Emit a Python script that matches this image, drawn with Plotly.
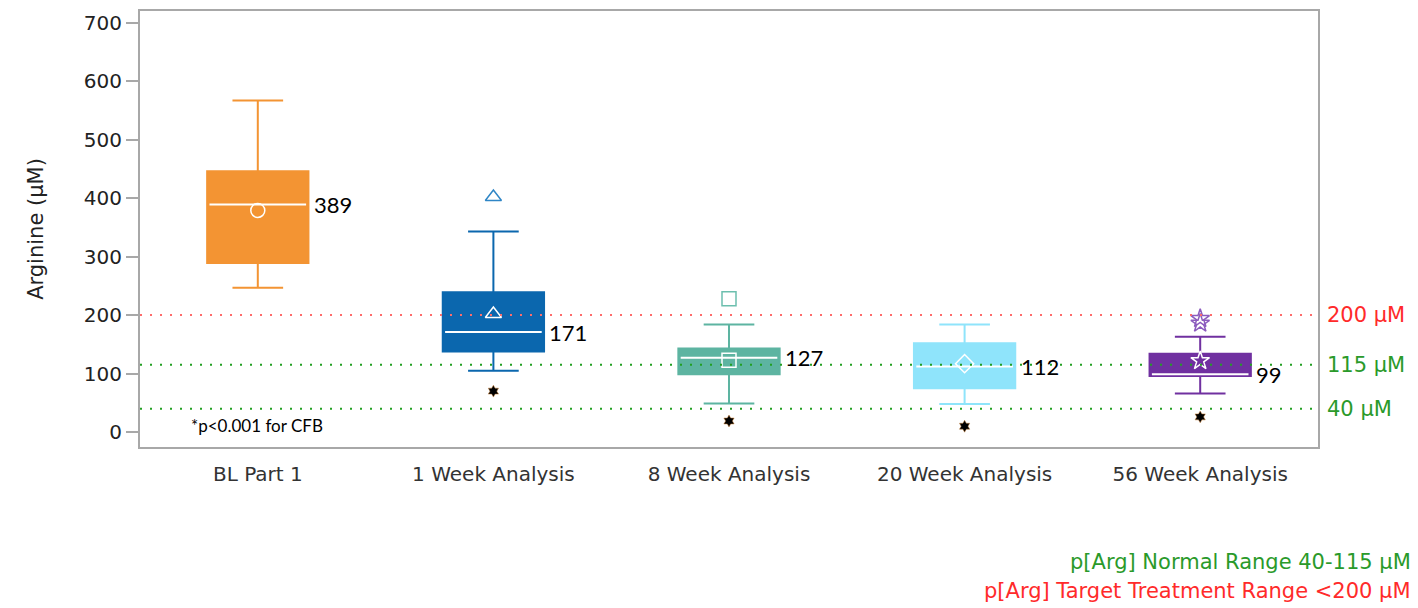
import plotly.graph_objects as go

# Arginine distribution per visit (box statistics, µM)
categories = ["BL Part 1", "1 Week Analysis", "8 Week Analysis", "20 Week Analysis", "56 Week Analysis"]
q1 = [289, 138, 99, 75, 96]
median = [389, 171, 127, 112, 99]
q3 = [446, 239, 143, 152, 134]
lower_whisker = [247, 105, 49, 48, 66]
upper_whisker = [567, 343, 184, 184, 163]
means = [379, 202, 123, 117, 122]
mean_symbols = ["circle-open", "triangle-up-open", "square-open", "diamond-open", "star-open"]
box_colors = ["#F39433", "#0B67AE", "#5DB4A1", "#8FE4FB", "#7030A0"]

# Outlying observations
outlier_cats = ["1 Week Analysis", "8 Week Analysis", "56 Week Analysis", "56 Week Analysis"]
outlier_vals = [402, 228, 186, 194]
outlier_symbols = ["triangle-up-open", "square-open", "star-open", "star-open"]
outlier_colors = ["#2F86C6", "#6CBFAE", "#8C5CBE", "#8C5CBE"]

# Significance markers (change from baseline)
sig_cats = ["1 Week Analysis", "8 Week Analysis", "20 Week Analysis", "56 Week Analysis"]
sig_vals = [70, 19, 10, 26]

# Reference ranges
ref_vals = [200, 115, 40]
ref_colors = ["#FF6B6B", "#22A022", "#22A022"]
ref_label_colors = ["#FF2A2A", "#2A9A2A", "#2A9A2A"]
ref_labels = ["200 µM", "115 µM", "40 µM"]

y_ticks = [0, 100, 200, 300, 400, 500, 600, 700]

SANS = "DejaVu Sans, Arial, sans-serif"
CAL = "Lato, Open Sans, sans-serif"
BOX_W = 0.43

fig = go.Figure()

for i, cat in enumerate(categories):
    fig.add_trace(go.Box(
        x=[cat], q1=[q1[i]], median=[median[i]], q3=[q3[i]],
        lowerfence=[lower_whisker[i]], upperfence=[upper_whisker[i]],
        width=BOX_W, whiskerwidth=0.5,
        fillcolor=box_colors[i], line=dict(color=box_colors[i], width=2),
        showlegend=False, hoverinfo="skip",
    ))
    # white median bar drawn over the box
    fig.add_trace(go.Box(
        x=[cat], q1=[median[i]], median=[median[i]], q3=[median[i]],
        lowerfence=[median[i]], upperfence=[median[i]],
        width=BOX_W - 0.02, whiskerwidth=0.5,
        fillcolor="rgba(0,0,0,0)", line=dict(color="white", width=2),
        showlegend=False, hoverinfo="skip",
    ))

# Mean markers
fig.add_trace(go.Scatter(
    x=categories, y=means, mode="markers", showlegend=False,
    marker=dict(symbol=mean_symbols, size=14, color="white",
                line=dict(color="white", width=1.5)),
))

# Outliers
fig.add_trace(go.Scatter(
    x=outlier_cats, y=outlier_vals, mode="markers", showlegend=False,
    marker=dict(symbol=outlier_symbols, size=14, color=outlier_colors,
                line=dict(color=outlier_colors, width=1.5)),
))

# Significance asterisks
fig.add_trace(go.Scatter(
    x=sig_cats, y=sig_vals, mode="markers", showlegend=False,
    marker=dict(symbol="hexagram", size=9, color="black",
                line=dict(color="#C8803A", width=0.5)),
))

# Median value labels
for i, cat in enumerate(categories):
    fig.add_annotation(
        x=cat, y=median[i], xref="x", yref="y", text=str(median[i]),
        showarrow=False, xanchor="left", yanchor="middle", xshift=54,
        font=dict(family=CAL, size=22, color="black"),
    )

# Reference lines with labels
for v, c, lc, lab in zip(ref_vals, ref_colors, ref_label_colors, ref_labels):
    fig.add_shape(type="line", xref="paper", yref="y", x0=0, x1=1, y0=v, y1=v,
                  line=dict(color=c, width=2, dash="2px,8px"), layer="above")
    fig.add_annotation(x=1, y=v, xref="paper", yref="y", text=lab, showarrow=False,
                       xanchor="left", yanchor="middle", xshift=7,
                       font=dict(family=SANS, size=21, color=lc))

fig.add_annotation(x=0.042, y=0.05, xref="paper", yref="paper", text="*p<0.001 for CFB",
                   showarrow=False, xanchor="left", yanchor="middle",
                   font=dict(family=CAL, size=17, color="black"))

fig.add_annotation(x=1.0806, y=-0.263, xref="paper", yref="paper",
                   text="p[Arg] Normal Range 40-115 µM", showarrow=False,
                   xanchor="right", yanchor="middle",
                   font=dict(family=SANS, size=21, color="#2A9A2A"))
fig.add_annotation(x=1.0806, y=-0.331, xref="paper", yref="paper",
                   text="p[Arg] Target Treatment Range <200 µM", showarrow=False,
                   xanchor="right", yanchor="middle",
                   font=dict(family=SANS, size=21, color="#FF2A2A"))

fig.update_layout(
    width=1418, height=608,
    margin=dict(l=140, r=100, t=9, b=161),
    paper_bgcolor="white", plot_bgcolor="white",
    boxmode="overlay",
    font=dict(family=SANS, color="#222222"),
    xaxis=dict(type="category", categoryorder="array", categoryarray=categories,
               range=[-0.5, 4.5], showgrid=False, zeroline=False,
               showline=True, linecolor="#A8A8A8", linewidth=2, mirror=True,
               ticks="", tickfont=dict(family=SANS, size=20, color="#333333"),
               ticklabelstandoff=8),
    yaxis=dict(range=[-25.5, 720], tickvals=y_ticks, showgrid=False, zeroline=False,
               showline=True, linecolor="#A8A8A8", linewidth=2, mirror=True,
               ticks="outside", ticklen=12, tickcolor="#A8A8A8", tickwidth=2,
               tickfont=dict(family=SANS, size=20, color="#222222"),
               title=dict(text="Arginine (µM)", font=dict(family=SANS, size=21, color="#222222"),
                          standoff=34)),
)

fig.write_html("out.html")
